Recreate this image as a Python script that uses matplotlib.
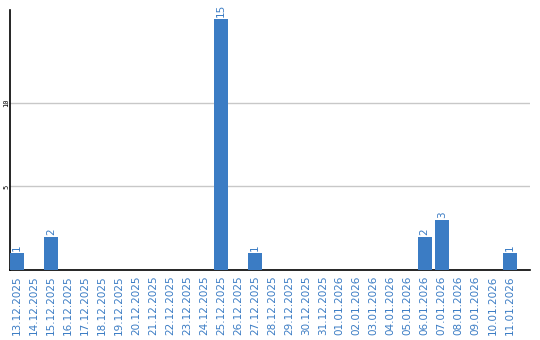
import matplotlib
matplotlib.use("Agg")
import matplotlib.pyplot as plt
import pandas as pd

# Data
dates = pd.date_range("2025-12-13", "2026-01-11", freq="D")
labels = [d.strftime("%d.%m.%Y") for d in dates]
counts = [1, 0, 2, 0, 0, 0, 0, 0, 0, 0, 0, 0, 15, 0, 1, 0, 0, 0, 0, 0,
          0, 0, 0, 0, 2, 3, 0, 0, 0, 1]

blue = "#3b7cc4"

fig = plt.figure(figsize=(5.4, 3.4), dpi=100)
ax = fig.add_axes([10 / 540, 70 / 340, 520 / 540, 260 / 340])

x = list(range(len(labels)))
bars = ax.bar(x, counts, width=0.82, color=blue, zorder=3)

for xi, v in zip(x, counts):
    if v > 0:
        ax.text(xi, v + 0.12, str(v), rotation=90, ha="center", va="bottom",
                color=blue, fontsize=7.5)

ax.set_xlim(-0.41, 30.2)
ax.set_ylim(0, 15.55)
ax.set_yticks([5, 10])
ax.set_yticklabels(["5", "10"], rotation=90, fontsize=5, va="center",
                   family="DejaVu Sans Mono")
ax.yaxis.grid(True, color="#c8c8c8", linewidth=1, zorder=0)
ax.tick_params(axis="y", length=0, pad=0.5)

ax.set_xticks(x)
ax.set_xticklabels(labels, rotation=90, fontsize=7.5, color=blue)
ax.tick_params(axis="x", length=0, pad=4)

for s in ["top", "right"]:
    ax.spines[s].set_visible(False)
ax.spines["left"].set_linewidth(1.2)
ax.spines["bottom"].set_linewidth(1.2)

fig.savefig("out.png", dpi=100)
